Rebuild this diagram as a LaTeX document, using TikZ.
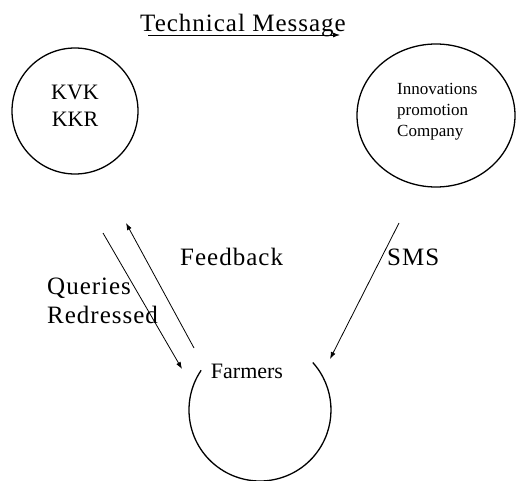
\documentclass[tikz,border=0pt]{standalone}
\usepackage{fontspec}
\setmainfont{Liberation Serif}
\newfontfamily\spacedfont[LetterSpace=4]{Liberation Serif}
\usetikzlibrary{arrows.meta}
\usetikzlibrary{shapes.geometric}
\usetikzlibrary{math}

\begin{document}
\begin{tikzpicture}[x=1pt,y=-1pt,
  ring/.style={draw,line width=1.3pt,inner sep=0pt},
  flow/.style={line width=0.8pt,-{Latex[length=7pt,width=5pt]}},
  lbl/.style={inner sep=0pt,anchor=base west,font=\spacedfont\fontsize{25}{30}\selectfont},
  inlbl/.style={inner sep=0pt,anchor=base,font=\fontsize{22}{26}\selectfont},
  smalllbl/.style={inner sep=0pt,anchor=base west,font=\fontsize{17}{20}\selectfont}]
\tikzmath{
\R=71;
}
\useasboundingbox (0,0) rectangle (516,481);

% the three parties
\node[ring,circle,minimum size=126pt] (kvk) at (75,111) {};
\node[ring,ellipse,minimum width=158pt,minimum height=143pt] (ipc) at (436,115.5) {};
\coordinate (farm) at (260,410);
\draw[line width=1.3pt] ([shift={(-146:\R)}]farm) arc[start angle=-146,end angle=-402,radius=\R];

% texts in the circles
\node[inlbl] (kvkA) at (75,100) {KVK};
\node[inlbl] (kvkB) at (75,127) {KKR};
\node[smalllbl] (ipcA) at (397,95) {Innovations};
\node[smalllbl] (ipcB) at (397,116) {promotion};
\node[smalllbl] (ipcC) at (397,137) {Company};
\node[inlbl] (farmlbl) at (247,378) {Farmers};

% ends of the connectors
\coordinate (t1) at (148,35);
\coordinate (t2) at (340,35);
\coordinate (q1) at (103,233);
\coordinate (q2) at (182,369);
\coordinate (f1) at (194,348);
\coordinate (f2) at (126,223);
\coordinate (s1) at (399,223);
\coordinate (s2) at (330,359);

\draw[flow] (t1) -- (t2);
\draw[flow] (q1) -- (q2);
\draw[flow] (f1) -- (f2);
\draw[flow] (s1) -- (s2);

% connector labels
\node[lbl] (tech) at (140,32) {Technical Message};
\node[lbl] (fb) at (180,265) {Feedback};
\node[lbl] (sms) at (387,265) {SMS};
\node[lbl] (qry) at (47,294) {Queries};
\node[lbl] (red) at (47,323) {Redressed};
\end{tikzpicture}
\end{document}
